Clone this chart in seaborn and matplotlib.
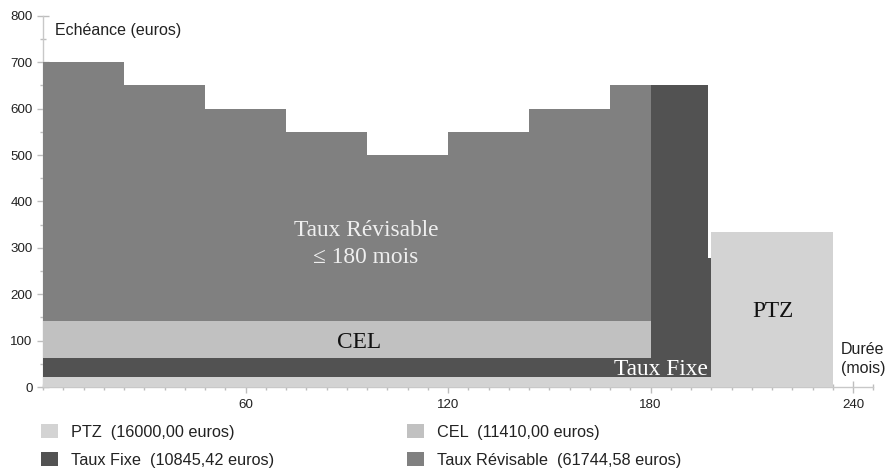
import matplotlib
matplotlib.use("Agg")
import matplotlib.pyplot as plt
from matplotlib.patches import Patch
from matplotlib.ticker import MultipleLocator, FixedLocator
import numpy as np
import pandas as pd
import seaborn as sns

# Segment boundaries (months) of the repayment schedule
edges = [0, 24, 48, 72, 96, 120, 144, 168, 180, 197, 198, 234]

# Monthly payment (euros) of each loan on each segment
ptz = [21, 21, 21, 21, 21, 21, 21, 21, 21, 21, 335]
taux_fixe = [41, 41, 41, 41, 41, 41, 41, 41, 630, 258, 0]
cel = [80, 80, 80, 80, 80, 80, 80, 80, 0, 0, 0]
taux_revisable = [558, 508, 458, 408, 358, 408, 458, 508, 0, 0, 0]

loans = ["PTZ", "Taux Fixe", "CEL", "Taux Révisable"]
legend_labels = [
    "PTZ  (16000,00 euros)",
    "Taux Fixe  (10845,42 euros)",
    "CEL  (11410,00 euros)",
    "Taux Révisable  (61744,58 euros)",
]
colors = {
    "PTZ": "#d3d3d3",
    "Taux Fixe": "#525252",
    "CEL": "#c1c1c1",
    "Taux Révisable": "#808080",
}

y_ticks = [0, 100, 200, 300, 400, 500, 600, 700, 800]
x_ticks = [60, 120, 180, 240]

series = {"PTZ": ptz, "Taux Fixe": taux_fixe, "CEL": cel, "Taux Révisable": taux_revisable}
rows = []
for name, vals in series.items():
    for start, v in zip(edges[:-1], vals):
        rows.append({"mois": start, "echeance": v, "pret": name})
df = pd.DataFrame(rows)

sns.set_theme(style="white")
plt.rcParams["font.family"] = ["Liberation Sans", "DejaVu Sans"]

W, H = 888, 472
fig = plt.figure(figsize=(W / 100, H / 100), dpi=100)
px_per_month = 3.375
x0, y0 = 43, 387
ax = fig.add_axes([x0 / W, 1 - y0 / H, 246 * px_per_month / W, 371.2 / H])

# Stacked schedule: the last hue level is drawn at the bottom
sns.histplot(
    data=df, x="mois", weights="echeance", hue="pret",
    hue_order=["Taux Révisable", "CEL", "Taux Fixe", "PTZ"],
    bins=edges, multiple="stack", element="step",
    palette=colors, alpha=1, linewidth=0, legend=False, ax=ax,
)

ax.set_xlim(0, 246)
ax.set_ylim(0, 800)
ax.set_xlabel("")
ax.set_ylabel("")
ax.set_axisbelow(True)

for s in ["top", "right"]:
    ax.spines[s].set_visible(False)
for s in ["left", "bottom"]:
    ax.spines[s].set_color("#c8c8c8")
    ax.spines[s].set_linewidth(1)
    ax.spines[s].set_zorder(0.6)

ax.yaxis.set_major_locator(FixedLocator(y_ticks))
ax.yaxis.set_minor_locator(MultipleLocator(50))
ax.xaxis.set_major_locator(FixedLocator(x_ticks))
ax.xaxis.set_minor_locator(MultipleLocator(6))
ax.tick_params(axis="both", which="both", bottom=True, left=True,
               top=False, right=False)
ax.tick_params(axis="both", which="major", direction="inout", length=9,
               width=1, color="#bdbdbd", labelsize=9.6, labelcolor="#222222")
ax.tick_params(axis="y", which="major", pad=3)
ax.tick_params(axis="x", which="major", pad=4)
ax.tick_params(axis="both", which="minor", direction="inout", length=5,
               width=1, color="#bdbdbd")

serif = ["Liberation Serif", "DejaVu Serif"]
fs = 16.8
ax.text(95.7, 325, "Taux Révisable", ha="center", va="baseline",
        family=serif, fontsize=fs, color="#efefef")
ax.text(95.7, 266.5, "≤ 180 mois", ha="center", va="baseline",
        family=serif, fontsize=fs, color="#efefef")
ax.text(93.5, 83.5, "CEL", ha="center", va="baseline",
        family=serif, fontsize=fs, color="#111111")
ax.text(197, 26, "Taux Fixe", ha="right", va="baseline",
        family=serif, fontsize=fs, color="#ffffff")
ax.text(216.4, 151.5, "PTZ", ha="center", va="baseline",
        family=serif, fontsize=fs, color="#111111")

fig.text(55 / W, 1 - 35 / H, "Echéance (euros)", ha="left", va="baseline",
         fontsize=11.5, color="#222222")
fig.text(841 / W, 1 - 354.5 / H, "Durée", ha="left", va="baseline",
         fontsize=11.5, color="#222222")
fig.text(841 / W, 1 - 373 / H, "(mois)", ha="left", va="baseline",
         fontsize=11.5, color="#222222")

handles = [Patch(facecolor=colors[n], edgecolor="none") for n in loans]
fig.legend(
    handles, legend_labels, ncol=2, loc="upper left",
    bbox_to_anchor=(40.7 / W, 1 - 424 / H), frameon=False,
    fontsize=11.7, handlelength=1.05, handleheight=0.95,
    handletextpad=0.8, columnspacing=8.2, labelspacing=0.78,
    borderpad=0, borderaxespad=0, labelcolor="#222222",
)

fig.savefig("out.png", dpi=100)
